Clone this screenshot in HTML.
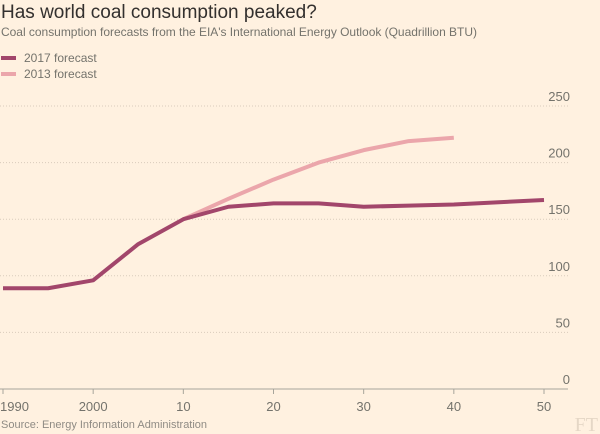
<!DOCTYPE html>
<html><head><meta charset="utf-8"><style>
body{margin:0;background:#fff1e0;font-family:"Liberation Sans",sans-serif}
svg{display:block}
</style></head><body>
<svg width="600" height="434" id="c">
<rect width="600" height="434" fill="#fff1e0"/>
<text x="1" y="18" font-size="19" fill="#33302e">Has world coal consumption peaked?</text>
<text x="1" y="36" font-size="12" fill="#74736c" textLength="476">Coal consumption forecasts from the EIA's International Energy Outlook (Quadrillion BTU)</text>
<g>
<line x1="1" y1="58" x2="16" y2="58" stroke="#a2466b" stroke-width="4"/>
<text x="24" y="62" font-size="12" fill="#74736c">2017 forecast</text>
<line x1="1" y1="74" x2="16" y2="74" stroke="#eba6ab" stroke-width="4"/>
<text x="24" y="78" font-size="12" fill="#74736c">2013 forecast</text>
</g>
<g id="grid"></g><g id="xaxis"></g><g id="lines"></g>
<text x="1" y="428" font-size="11" fill="#8f8b84">Source: Energy Information Administration</text>
<text x="598" y="431" font-size="20" fill="#e5d7c6" text-anchor="end" font-family="Liberation Serif,serif">FT</text>
</svg>
<script>
const years2017=[1990,1995,2000,2005,2010,2015,2020,2025,2030,2035,2040,2045,2050];
const values2017=[89,89,96,128,150,161,164,164,161,162,163,165,167];
const years2013=[2010,2015,2020,2025,2030,2035,2040];
const values2013=[150,168,185,200,211,219,222];
const yTicks=[0,50,100,150,200,250];
const xTicks=[1990,2000,2010,2020,2030,2040,2050];
const xTickLabels=["1990","2000","10","20","30","40","50"];
const NS="http://www.w3.org/2000/svg";
const xs=y=>3+(y-1990)*(541/60);
const ys=v=>389-v*(283/250);
function mk(t,a,p){const e=document.createElementNS(NS,t);for(const k in a)e.setAttribute(k,a[k]);document.getElementById(p).appendChild(e);return e;}
yTicks.forEach(v=>{
 if(v>0){const l=mk('line',{x1:0,x2:568,y1:ys(v),y2:ys(v),stroke:'#d9ccbc','stroke-dasharray':'1,2'},'grid');
 
 }
 const t=mk('text',{x:570,y:ys(v)-5,'font-size':13,fill:'#74736c','text-anchor':'end'},'grid');t.textContent=v;
 
 
});
const ax=mk('line',{x1:0,x2:568,y1:389,y2:389,stroke:'#a7a59b'},'xaxis');


xTicks.forEach((y,i)=>{
 const tk=mk('line',{x1:xs(y),x2:xs(y),y1:389,y2:394,stroke:'#a7a59b'},'xaxis');
 
 
 const t=mk('text',{x:i==0?0:xs(y),y:411,'font-size':13,fill:'#74736c','text-anchor':i==0?'start':'middle'},'xaxis');t.textContent=xTickLabels[i];
 
 
});
function line(ys_,vs,col,name){
 const p=mk('polyline',{points:ys_.map((y,i)=>xs(y)+','+ys(vs[i])).join(' '),fill:'none',stroke:col,'stroke-width':4,'stroke-linejoin':'round'},'lines');
 
 
}
line(years2013,values2013,'#eba6ab','line-2013-forecast');
line(years2017,values2017,'#a2466b','line-2017-forecast');
</script>
</body></html>
